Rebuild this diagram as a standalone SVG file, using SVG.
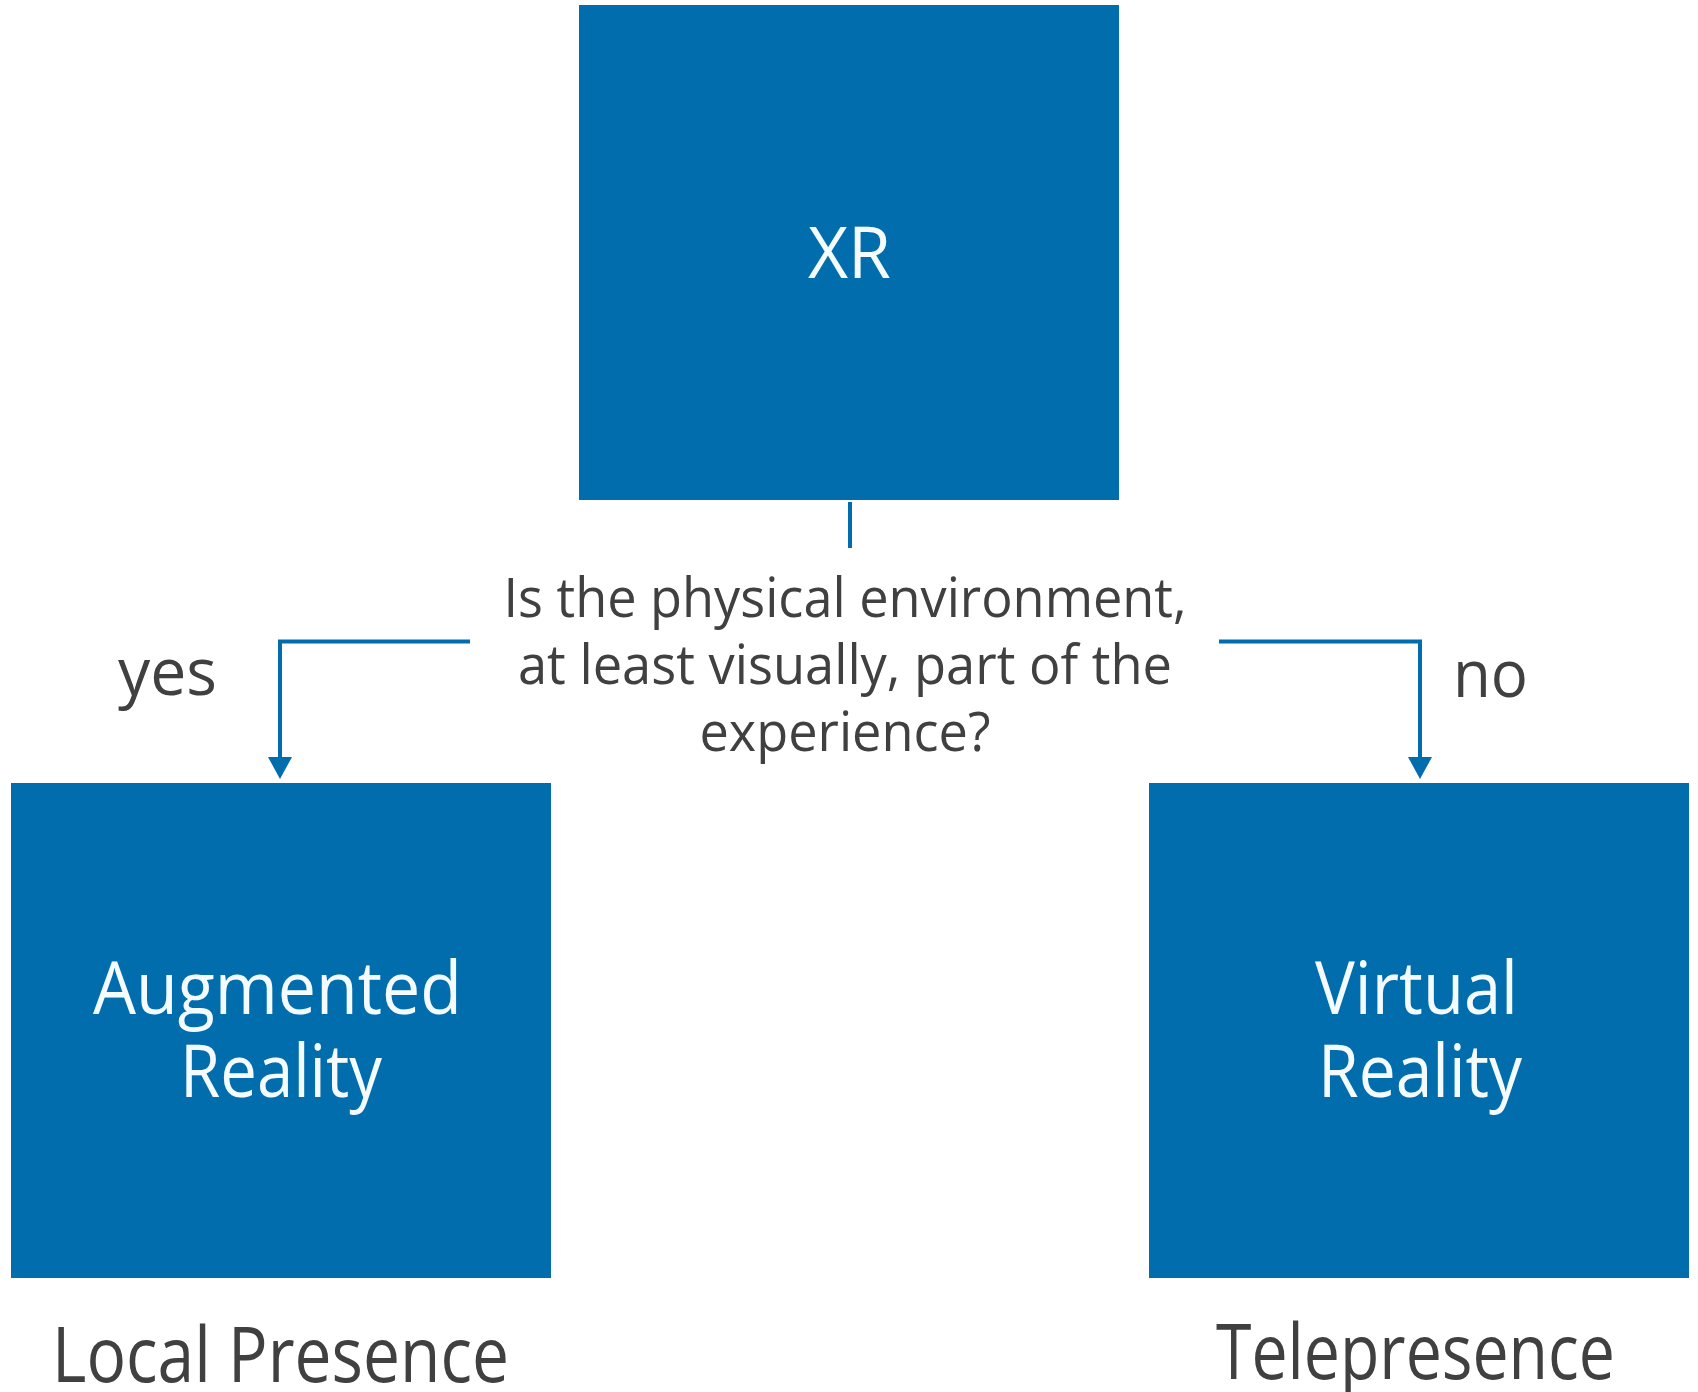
<svg xmlns="http://www.w3.org/2000/svg" width="1698" height="1392" viewBox="0 0 1698 1392">
<style>
.box{fill:#016DAD;}
.wt{fill:#F4FBFF;font-family:"Open Sans","Noto Sans","DejaVu Sans",sans-serif;text-anchor:middle;}
.gt{fill:#404040;font-family:"Open Sans","Noto Sans","DejaVu Sans",sans-serif;}
.ln{fill:none;stroke:#016DAD;stroke-width:4;}
.ah{fill:#016DAD;}
</style>
<rect width="1698" height="1392" fill="#FFFFFF"/>
<g id="node-xr">
<rect class="box" x="579" y="5" width="540" height="495"/>
<text class="wt" x="849.5" y="278" font-size="71" textLength="83" lengthAdjust="spacingAndGlyphs">XR</text>
</g>
<g id="node-question">
<text class="gt" x="845" y="617" font-size="55" text-anchor="middle" textLength="683" lengthAdjust="spacingAndGlyphs">Is the physical environment,</text>
<text class="gt" x="845" y="684" font-size="55" text-anchor="middle" textLength="654" lengthAdjust="spacingAndGlyphs">at least visually, part of the</text>
<text class="gt" x="845" y="751" font-size="55" text-anchor="middle" textLength="291" lengthAdjust="spacingAndGlyphs">experience?</text>
</g>
<g id="node-ar">
<rect class="box" x="11" y="783" width="540" height="495"/>
<text class="wt" x="277.5" y="1014" font-size="74" textLength="369" lengthAdjust="spacingAndGlyphs">Augmented</text>
<text class="wt" x="281" y="1097" font-size="74" textLength="202" lengthAdjust="spacingAndGlyphs">Reality</text>
</g>
<g id="node-vr">
<rect class="box" x="1149" y="783" width="540" height="495"/>
<text class="wt" x="1416.5" y="1014" font-size="74" textLength="203" lengthAdjust="spacingAndGlyphs">Virtual</text>
<text class="wt" x="1420" y="1097" font-size="74" textLength="204" lengthAdjust="spacingAndGlyphs">Reality</text>
</g>
<g id="label-local">
<text class="gt" x="52" y="1382" font-size="77" textLength="457" lengthAdjust="spacingAndGlyphs">Local Presence</text>
</g>
<g id="label-tele">
<text class="gt" x="1216" y="1379" font-size="77" textLength="399" lengthAdjust="spacingAndGlyphs">Telepresence</text>
</g>
<g id="connectors">
<line class="ln" x1="850" y1="502" x2="850" y2="548"/>
<path class="ln" d="M470,641.5 H280 V760"/>
<polygon class="ah" points="268,757 292,757 280,779"/>
<path class="ln" d="M1219,641.5 H1420 V760"/>
<polygon class="ah" points="1408,757 1432,757 1420,779"/>
<text class="gt" x="118" y="695" font-size="66" textLength="99" lengthAdjust="spacingAndGlyphs">yes</text>
<text class="gt" x="1453" y="697" font-size="66" textLength="75" lengthAdjust="spacingAndGlyphs">no</text>
</g>
</svg>
